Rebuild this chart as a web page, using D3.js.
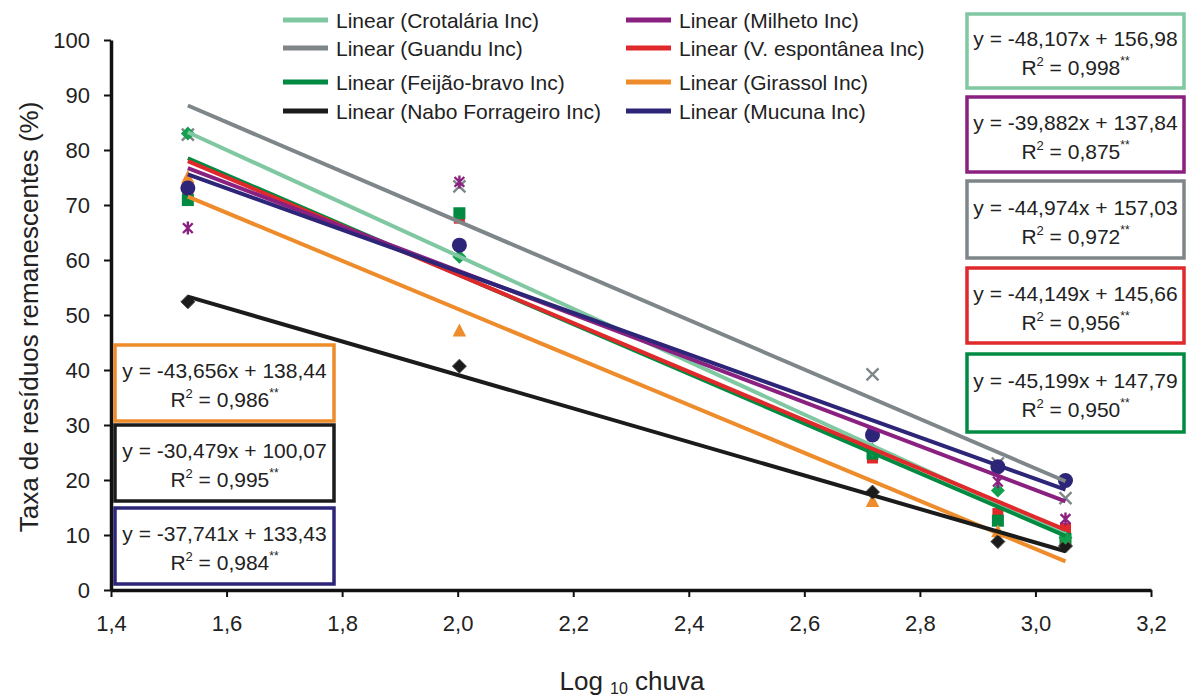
<!DOCTYPE html>
<html>
<head>
<meta charset="utf-8">
<script src="https://cdn.jsdelivr.net/npm/d3@7"></script>
<style>
  body { margin: 0; background: #fff; }
  svg { display: block; font-family: "Liberation Sans", Arial, sans-serif; }
</style>
</head>
<body>
<svg id="chart" width="1187" height="697"></svg>
<script>
// log10 of accumulated rain at each sampling
const logRain = [1.533, 2.003, 2.718, 2.935, 3.052];

const seriesNames = ["Crotalária Inc", "Milheto Inc", "Guandu Inc", "V. espontânea Inc",
                     "Feijão-bravo Inc", "Girassol Inc", "Nabo Forrageiro Inc", "Mucuna Inc"];

// remaining residues (%), one list per cover crop
const crotalaria = [83.0, 60.6, 25.5, 18.1, 9.5];
const milheto = [65.8, 74.2, 28.5, 19.7, 12.9];
const guandu = [82.8, 73.4, 39.2, 23.0, 16.7];
const vEspontanea = [71.5, 67.6, 24.0, 13.9, 11.2];
const feijaoBravo = [70.9, 68.5, 24.8, 12.6, 9.3];
const girassol = [75.0, 47.1, 16.1, 10.6, 8.8];
const nabo = [52.4, 40.7, 17.8, 8.8, 8.0];
const mucuna = [73.1, 62.7, 28.2, 22.4, 19.9];

// fitted linear trend (y = a x + b) and R2, same order as seriesNames
const slopes = [-48.107, -39.882, -44.974, -44.149, -45.199, -43.656, -30.479, -37.741];
const intercepts = [156.98, 137.84, 157.03, 145.66, 147.79, 138.44, 100.07, 133.43];
const r2 = [0.998, 0.875, 0.972, 0.956, 0.950, 0.986, 0.995, 0.984];

const xTicks = [1.4, 1.6, 1.8, 2.0, 2.2, 2.4, 2.6, 2.8, 3.0, 3.2];
const yTicks = [0, 10, 20, 30, 40, 50, 60, 70, 80, 90, 100];

const values = [crotalaria, milheto, guandu, vEspontanea, feijaoBravo, girassol, nabo, mucuna];

// styles
const colors = {
  "Crotalária Inc": "#7fc8a1",
  "Milheto Inc": "#8a2181",
  "Guandu Inc": "#7f8689",
  "V. espontânea Inc": "#e0292b",
  "Feijão-bravo Inc": "#018a41",
  "Girassol Inc": "#ee8b2b",
  "Nabo Forrageiro Inc": "#1b1b1b",
  "Mucuna Inc": "#2d2577"
};
const markers = {
  "Crotalária Inc": { shape: "diamond", r: 7, fill: "#12a04e" },
  "Milheto Inc": { shape: "asterisk", r: 6.5, stroke: "#8a2181" },
  "Guandu Inc": { shape: "x", r: 6, stroke: "#7f8689" },
  "V. espontânea Inc": { shape: "square", r: 5.5, fill: "#e0292b" },
  "Feijão-bravo Inc": { shape: "square", r: 6, fill: "#018a41" },
  "Girassol Inc": { shape: "triangle", r: 7.5, fill: "#ee8b2b" },
  "Nabo Forrageiro Inc": { shape: "diamond", r: 7, fill: "#1b1b1b", stroke: "#4a4a42" },
  "Mucuna Inc": { shape: "circle", r: 7.5, fill: "#2d2577" }
};
// marker stacking order, bottom first
const markerOrder = ["V. espontânea Inc", "Feijão-bravo Inc", "Girassol Inc", "Nabo Forrageiro Inc",
                     "Guandu Inc", "Crotalária Inc", "Milheto Inc", "Mucuna Inc"];

const svg = d3.select("#chart");
const x = d3.scaleLinear().domain([1.4, 3.2]).range([111, 1151]);
const y = d3.scaleLinear().domain([0, 100]).range([590, 40]);
const comma = (v, d) => v.toFixed(d).replace(".", ",");

function markerPath(shape, r) {
  const p = d3.path();
  if (shape === "diamond") {
    p.moveTo(0, -r); p.lineTo(r, 0); p.lineTo(0, r); p.lineTo(-r, 0); p.closePath();
  } else if (shape === "square") {
    p.rect(-r, -r, 2 * r, 2 * r);
  } else if (shape === "triangle") {
    p.moveTo(0, -r); p.lineTo(r * 0.9, r * 0.75); p.lineTo(-r * 0.9, r * 0.75); p.closePath();
  } else if (shape === "circle") {
    p.arc(0, 0, r, 0, 2 * Math.PI);
  } else if (shape === "x") {
    p.moveTo(-r, -r); p.lineTo(r, r); p.moveTo(-r, r); p.lineTo(r, -r);
  } else if (shape === "asterisk") {
    p.moveTo(-r * 0.75, -r * 0.75); p.lineTo(r * 0.75, r * 0.75);
    p.moveTo(-r * 0.75, r * 0.75); p.lineTo(r * 0.75, -r * 0.75);
    p.moveTo(0, -r); p.lineTo(0, r);
  }
  return p.toString();
}

// markers
markerOrder.forEach(name => {
  const i = seriesNames.indexOf(name);
  const m = markers[name];
  svg.append("g")
    .selectAll("path")
    .data(values[i])
    .join("path")
    .attr("transform", (d, j) => `translate(${x(logRain[j])},${y(d)})`)
    .attr("d", markerPath(m.shape, m.r))
    .attr("fill", m.fill || "none")
    .attr("stroke", m.stroke || "none")
    .attr("stroke-width", m.fill ? 1 : 2.4);
});

// trend lines, drawn across the sampled range
const lineOrder = ["Crotalária Inc", "Guandu Inc", "Feijão-bravo Inc", "V. espontânea Inc",
                   "Girassol Inc", "Nabo Forrageiro Inc", "Milheto Inc", "Mucuna Inc"];
const xr = d3.extent(logRain);
lineOrder.forEach(name => {
  const i = seriesNames.indexOf(name);
  svg.append("line")
    .attr("x1", x(xr[0])).attr("y1", y(slopes[i] * xr[0] + intercepts[i]))
    .attr("x2", x(xr[1])).attr("y2", y(slopes[i] * xr[1] + intercepts[i]))
    .attr("stroke", colors[name])
    .attr("stroke-width", 4);
});

// axes
const yAxis = svg.append("g")
  .attr("transform", `translate(${x(1.4)},0)`)
  .call(d3.axisLeft(y).tickValues(yTicks).tickSize(7).tickSizeOuter(0).tickPadding(14));
const xAxis = svg.append("g")
  .attr("transform", `translate(0,${y(0)})`)
  .call(d3.axisBottom(x).tickValues(xTicks).tickSize(7).tickSizeOuter(0).tickPadding(18)
    .tickFormat(d => comma(d, 1)));
[yAxis, xAxis].forEach(g => {
  g.select(".domain").attr("stroke", "#111").attr("stroke-width", 3.5);
  g.selectAll(".tick line").attr("stroke", "#111").attr("stroke-width", 2);
  g.selectAll(".tick text").attr("fill", "#222").attr("font-family", "Liberation Sans, Arial, sans-serif");
});
yAxis.selectAll(".tick text").attr("font-size", 22);
xAxis.selectAll(".tick text").attr("font-size", 22);

// axis titles
svg.append("text")
  .attr("transform", "translate(38,317) rotate(-90)")
  .attr("text-anchor", "middle")
  .attr("font-size", 26)
  .attr("fill", "#222")
  .text("Taxa de resíduos remanescentes (%)");
const xt = svg.append("text")
  .attr("x", 632).attr("y", 690)
  .attr("text-anchor", "middle")
  .attr("font-size", 26)
  .attr("fill", "#222");
xt.append("tspan").text("Log ");
xt.append("tspan").attr("font-size", 16).attr("dy", 4).text("10");
xt.append("tspan").attr("dy", -4).text(" chuva");

// legend, two columns filled row by row
const legendCols = [283, 626];
const legendRows = [20, 48, 82, 111];
seriesNames.forEach((name, i) => {
  const lx = legendCols[i % 2], ly = legendRows[Math.floor(i / 2)];
  svg.append("line")
    .attr("x1", lx).attr("x2", lx + 45).attr("y1", ly).attr("y2", ly)
    .attr("stroke", colors[name]).attr("stroke-width", 5);
  svg.append("text")
    .attr("x", lx + 53).attr("y", ly + 8)
    .attr("font-size", 21).attr("fill", "#222")
    .text(`Linear (${name})`);
});

// equation boxes
const boxes = {
  "Crotalária Inc": [967, 14, 217, 74],
  "Milheto Inc": [967, 97, 217, 75],
  "Guandu Inc": [967, 181, 217, 77],
  "V. espontânea Inc": [967, 268, 217, 75],
  "Feijão-bravo Inc": [967, 354, 217, 78],
  "Girassol Inc": [115, 345, 219, 76],
  "Nabo Forrageiro Inc": [115, 425, 219, 76],
  "Mucuna Inc": [115, 508, 219, 76]
};
seriesNames.forEach((name, i) => {
  const [bx, by, bw, bh] = boxes[name];
  const g = svg.append("g");
  g.append("rect")
    .attr("x", bx).attr("y", by).attr("width", bw).attr("height", bh)
    .attr("fill", "#fff").attr("stroke", colors[name]).attr("stroke-width", 3.5);
  const cx = bx + bw / 2;
  g.append("text")
    .attr("x", cx).attr("y", by + bh / 2 - 5)
    .attr("text-anchor", "middle").attr("font-size", 21).attr("fill", "#222")
    .text(`y = ${comma(slopes[i], 3)}x + ${comma(intercepts[i], 2)}`);
  const t = g.append("text")
    .attr("x", cx).attr("y", by + bh / 2 + 24)
    .attr("text-anchor", "middle").attr("font-size", 21).attr("fill", "#222");
  t.append("tspan").text("R");
  t.append("tspan").attr("font-size", 13).attr("dy", -9).text("2");
  t.append("tspan").attr("dy", 9).text(` = ${comma(r2[i], 3)}`);
  t.append("tspan").attr("font-size", 12).attr("dy", -10).text("**");
});
</script>
</body>
</html>
